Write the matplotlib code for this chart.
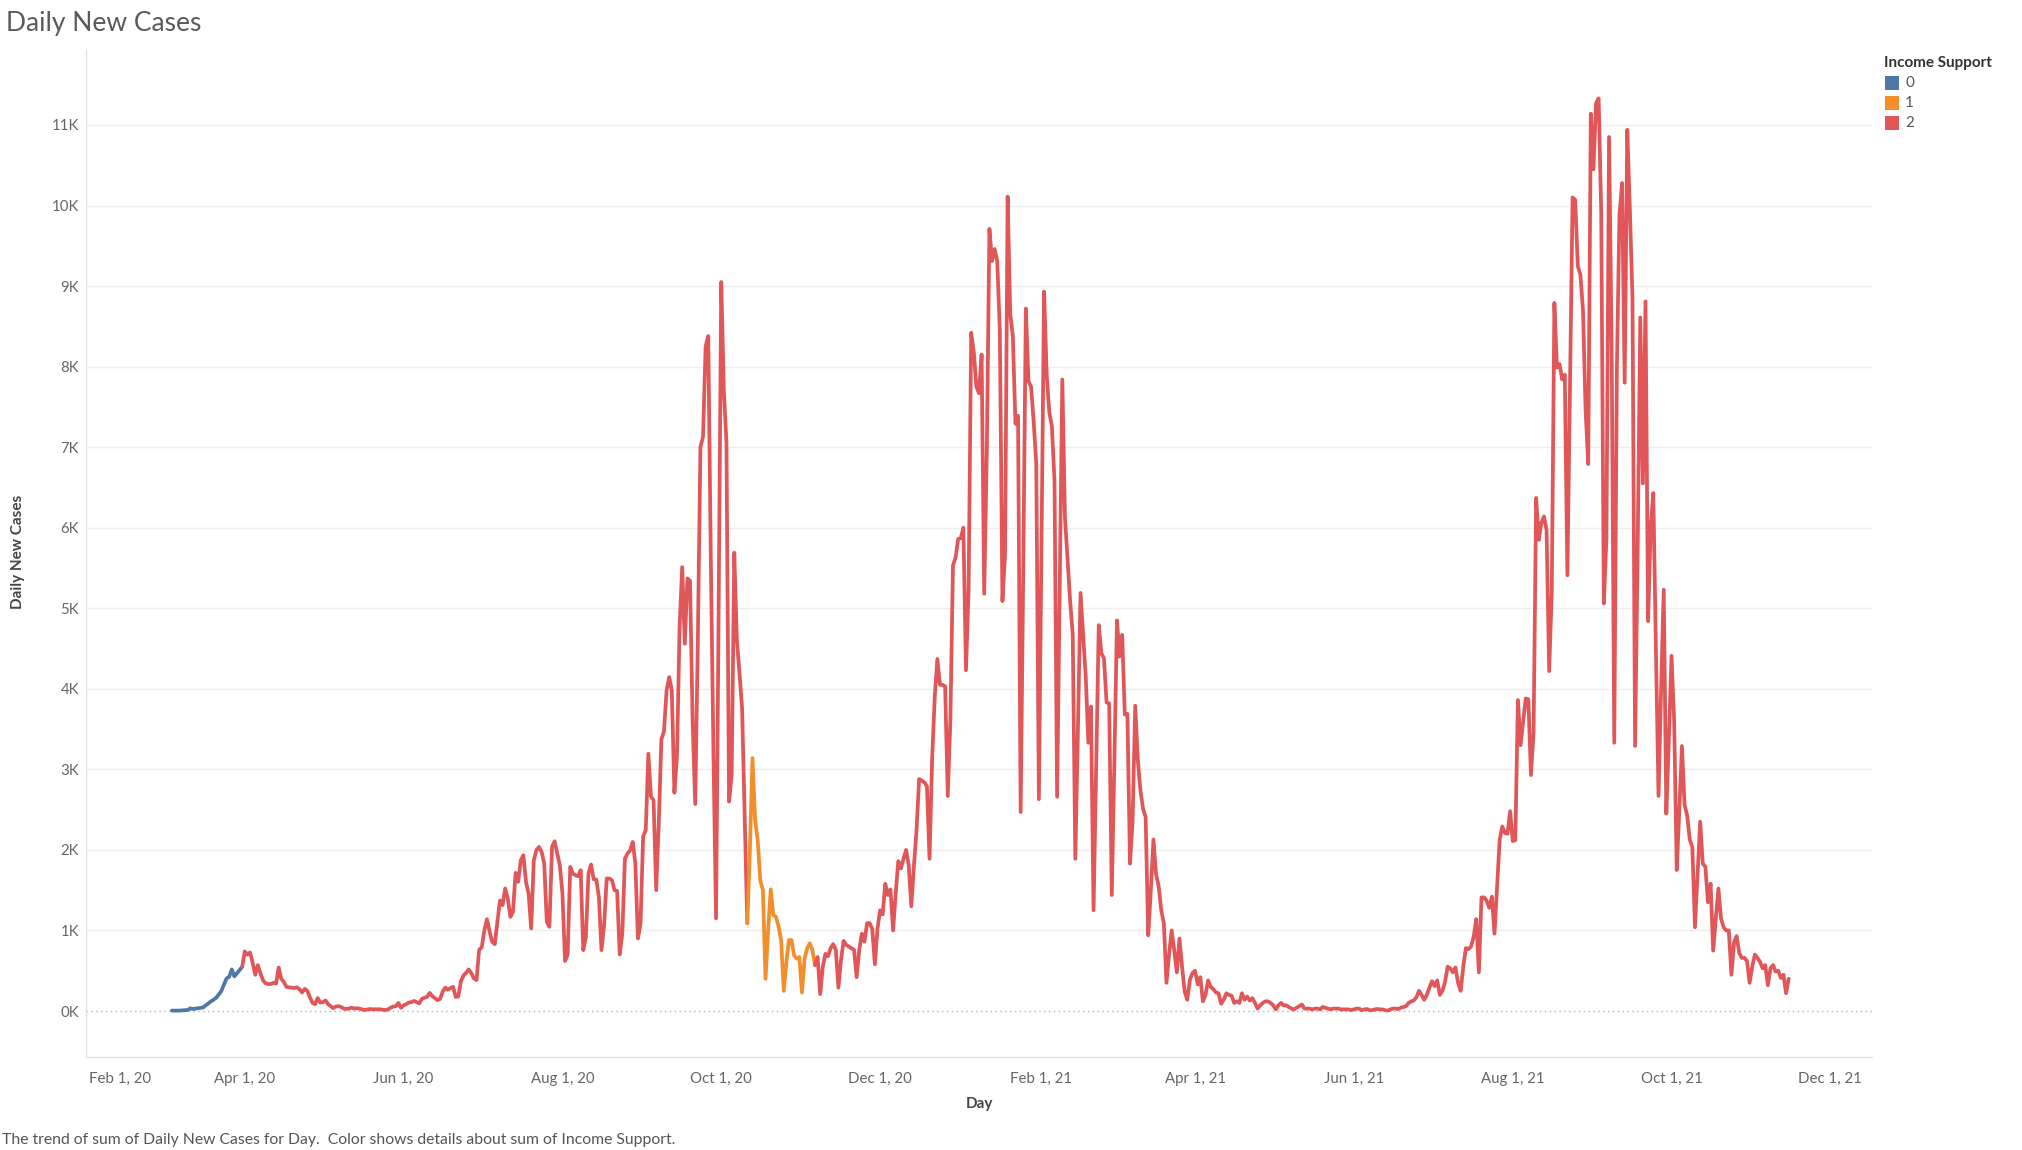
import matplotlib
matplotlib.use("Agg")
import matplotlib.pyplot as plt
import matplotlib.dates as mdates
import matplotlib.ticker as ticker
from matplotlib.patches import Rectangle
import pandas as pd

plt.rcParams['font.family'] = ['Lato', 'DejaVu Sans']

# daily new cases, one value per day (starts 2020-03-04)
start_day = '2020-03-04'
mar_jul20 = [5, 5, 5, 5, 8, 10, 12, 33, 25, 28, 35, 38, 45, 70, 95, 120, 140, 165, 205, 250,
             330, 405, 425, 516, 430, 470, 508, 550,
             740, 700, 727, 600, 450, 570, 470, 380, 345, 335,
             335, 350, 340, 540, 400, 360, 300, 293, 290, 285,
             295, 270, 230, 275, 250, 170, 100, 85, 160, 105,
             110, 130, 85, 60, 35, 55, 60, 50, 30, 25,
             30, 42, 30, 35, 30, 20, 12, 18, 25, 20,
             22, 20, 22, 15, 12, 20, 40, 55, 60, 100,
             40, 70, 85, 105, 110, 125, 110, 95, 150, 165,
             175, 225, 185, 160, 135, 150, 240, 290, 265, 285,
             300, 175, 180, 370, 440, 475, 516, 470, 405, 384,
             760, 790, 1000, 1140, 990, 860, 830, 1100, 1370]
jul_sep20 = [1314, 1521, 1397, 1169, 1231, 1715, 1603, 1872, 1934, 1603,
             1459, 1025, 1872, 1996, 2037, 1975, 1831, 1107, 1045, 2037,
             2107, 1955, 1810, 1459, 620, 702, 1789, 1707, 1686, 1674,
             1748, 756, 921, 1707, 1818, 1636, 1632, 1417, 756, 1066,
             1645, 1645, 1624, 1500, 1492, 702, 963, 1893, 1955, 1996,
             2099, 1831, 901, 1087, 2169, 2244, 3194, 2665, 2616, 1500,
             2326, 3372, 3471, 3979, 4145, 3979]
sep_oct20 = [2710, 3170, 4770, 5510, 4560, 5370, 5340, 3600, 2570, 4600,
             7000, 7130, 8250, 8380, 5600, 3200, 1150, 5000, 9050, 7700,
             7060, 2600, 2930, 5690, 4600, 4200, 3760, 2400, 1090]
oct_dec20 = [2000, 3140, 2370, 2120, 1620, 1500, 400, 1000, 1510, 1190,
             1170, 1050, 880, 250, 600, 880, 880, 690, 650, 670,
             230, 650, 780, 840, 760, 570,
             670, 210, 550, 710, 680, 780, 830, 760, 290, 630,
             870, 820, 800, 780, 760, 420, 760, 960, 860, 1090,
             1090, 1020, 580, 1020, 1250, 1200, 1580, 1440, 1510, 1000,
             1460, 1860, 1770, 1890, 2000, 1810, 1300, 1800, 2240, 2880,
             2860, 2840, 2790, 1890, 3130]
dec20_jan21 = [3900, 4370, 4050, 4050, 4030, 2670, 3600, 5530, 5630, 5860,
               5870, 6000, 4230, 5230, 8420, 8180, 7750, 7670, 8150, 5180,
               6950, 9710, 9310, 9460, 9310, 8450, 5090, 5660, 10110, 8650,
               8380, 7290, 7390, 2470, 5500, 8720, 7820, 7750, 7320, 6790]
jan_mar21 = [2630, 5800, 8930, 7900, 7430, 7260, 6580, 2660, 5200, 7840,
             6140, 5620, 5090, 4680, 1890, 3500, 5190, 4680, 4150, 3330,
             3780, 1250, 3000, 4790, 4440, 4380, 3830, 3820, 1440, 3100,
             4850, 4400, 4670, 3680, 3690, 1830, 2360, 3790, 3120, 2740,
             2510, 2410, 940, 1500, 2130, 1700, 1550]
mar_jul21 = [1250, 1090, 350, 700, 1000, 750, 480, 900, 550, 240,
             140, 390, 470, 500, 330, 420, 120, 200, 380, 300,
             270, 230, 220, 90, 140, 220, 200, 190, 100, 120,
             100, 220, 140, 180, 130, 160, 100, 30, 70, 100,
             120, 120, 100, 70, 20, 70, 100, 70, 70, 50,
             30, 20, 40, 60, 80, 30, 30, 30, 20, 30,
             30, 20, 50, 40, 30, 20, 30, 30, 30, 20,
             20, 20, 20, 10, 20, 30, 30, 10, 20, 25,
             10, 10, 20, 25, 20, 20, 10, 5, 20, 30,
             30, 25, 40, 50, 60, 100, 120, 130, 170, 250,
             200, 140, 200, 290, 370, 310, 380, 200, 250, 360,
             550, 530, 480, 540, 350, 250, 550, 780, 770, 800,
             920, 1140]
jul_aug21 = [480, 1410, 1410, 1370, 1280, 1420, 960, 1550, 2130, 2290,
             2210, 2200, 2480, 2110, 2120, 3860, 3300, 3590, 3880, 3870,
             2930, 3450, 6370, 5850, 6060, 6140, 5970, 4220, 5200, 8790,
             7990, 8030, 7840, 7900, 5410, 7800, 10100]
aug_sep21 = [10070, 9250, 9140, 8700, 7450, 6790, 11140, 10450, 11270, 11330,
             9900, 5060, 5870, 10850, 8260, 3330, 7960, 9880, 10280, 7800,
             10940, 9950, 8850, 3290, 5760, 8610, 6550, 8810, 4840, 6010,
             6430, 4500, 2670, 4000, 5230, 2450]
sep_nov21 = [3400, 4410, 3610, 1750, 2500, 3290, 2560, 2430, 2130, 2030,
             1040, 1700, 2350, 1830, 1790, 1350, 1580, 750, 1150, 1520,
             1150, 1040, 1000, 1000, 450, 850, 930, 720, 660, 660,
             620, 350, 550, 700, 660, 610, 530, 570, 320, 530,
             570, 490, 500, 410, 450, 220, 400]

# income support level and the day it starts
support_start = ['2020-03-04', '2020-04-01', '2020-10-12', '2020-11-07']
support_level = [0, 2, 1, 2]
levels = ['0', '1', '2']
colors = ['#4e79a7', '#f28e2b', '#e15759']

cases = (mar_jul20 + jul_sep20 + sep_oct20 + oct_dec20 + dec20_jan21 +
         jan_mar21 + mar_jul21 + jul_aug21 + aug_sep21 + sep_nov21)
days = pd.date_range(start_day, periods=len(cases), freq='D')
s = pd.Series(cases, index=days)

W, H = 2022, 1150
fig = plt.figure(figsize=(W / 100, H / 100), dpi=100)
ax = fig.add_axes([86 / W, 1 - 1057 / H, (1872 - 86) / W, (1057 - 49) / H])

bounds = [pd.Timestamp(d) for d in support_start] + [days[-1] + pd.Timedelta(days=1)]
for i, lvl in enumerate(support_level):
    lo = bounds[i] - pd.Timedelta(days=1)
    seg = s[(s.index >= lo) & (s.index < bounds[i + 1])]
    ax.plot(seg.index, seg.values, color=colors[lvl], lw=2.7,
            solid_joinstyle='round', solid_capstyle='round', zorder=3)

ax.set_ylim(-571, 11943)
ax.set_xlim(pd.Timestamp('2020-01-31'), pd.Timestamp('2021-12-17'))

ax.yaxis.set_major_locator(ticker.MultipleLocator(1000))
ax.yaxis.set_major_formatter(ticker.FuncFormatter(lambda v, p: '%dK' % round(v / 1000)))
for v in range(1000, 12000, 1000):
    ax.axhline(v, color='#efefef', lw=1, zorder=1)
ax.axhline(0, color='#b5b5b5', lw=1, ls=(0, (1, 2.5)), zorder=2)

ax.xaxis.set_major_locator(mdates.MonthLocator(bymonth=(2, 4, 6, 8, 10, 12)))
ax.xaxis.set_major_formatter(ticker.FuncFormatter(
    lambda x, p: '{:%b} {}, {:%y}'.format(mdates.num2date(x), mdates.num2date(x).day, mdates.num2date(x))))

ax.tick_params(axis='both', length=0, colors='#666666', labelsize=10.8)
ax.tick_params(axis='x', pad=11)
ax.tick_params(axis='y', pad=5)
for side in ['top', 'right']:
    ax.spines[side].set_visible(False)
for side in ['left', 'bottom']:
    ax.spines[side].set_color('#e3e3e3')
    ax.spines[side].set_linewidth(1)

# tableau keeps the first date label inside the pane
fig.canvas.draw()
first = ax.get_xticklabels()[0]
first.set_horizontalalignment('left')

fig.text(6 / W, 1 - 23 / H, 'Daily New Cases', fontsize=19, color='#5a5a5a',
         va='center', ha='left')
fig.text(18 / W, 1 - 552 / H, 'Daily New Cases', rotation=90, fontsize=11,
         color='#444444', va='center', ha='center', fontweight='bold')
fig.text(979 / W, 1 - 1104 / H, 'Day', fontsize=11, color='#444444',
         va='center', ha='center', fontweight='bold')
fig.text(2 / W, 1 - 1140 / H,
         'The trend of sum of Daily New Cases for Day.  Color shows details about sum of Income Support.',
         fontsize=11.3, color='#555555', va='center', ha='left')

# legend
fig.text(1884 / W, 1 - 63 / H, 'Income Support', fontsize=11, color='#333333',
         va='center', ha='left', fontweight='bold')
rows = [83, 103, 123]
for lab, col, yc in zip(levels, colors, rows):
    fig.patches.append(Rectangle((1885 / W, 1 - (yc + 7) / H), 14 / W, 14 / H,
                                 transform=fig.transFigure, facecolor=col, edgecolor='none'))
    fig.text(1905 / W, 1 - yc / H, lab, fontsize=11, color='#555555', va='center', ha='left')

fig.savefig('out.png', dpi=100)
